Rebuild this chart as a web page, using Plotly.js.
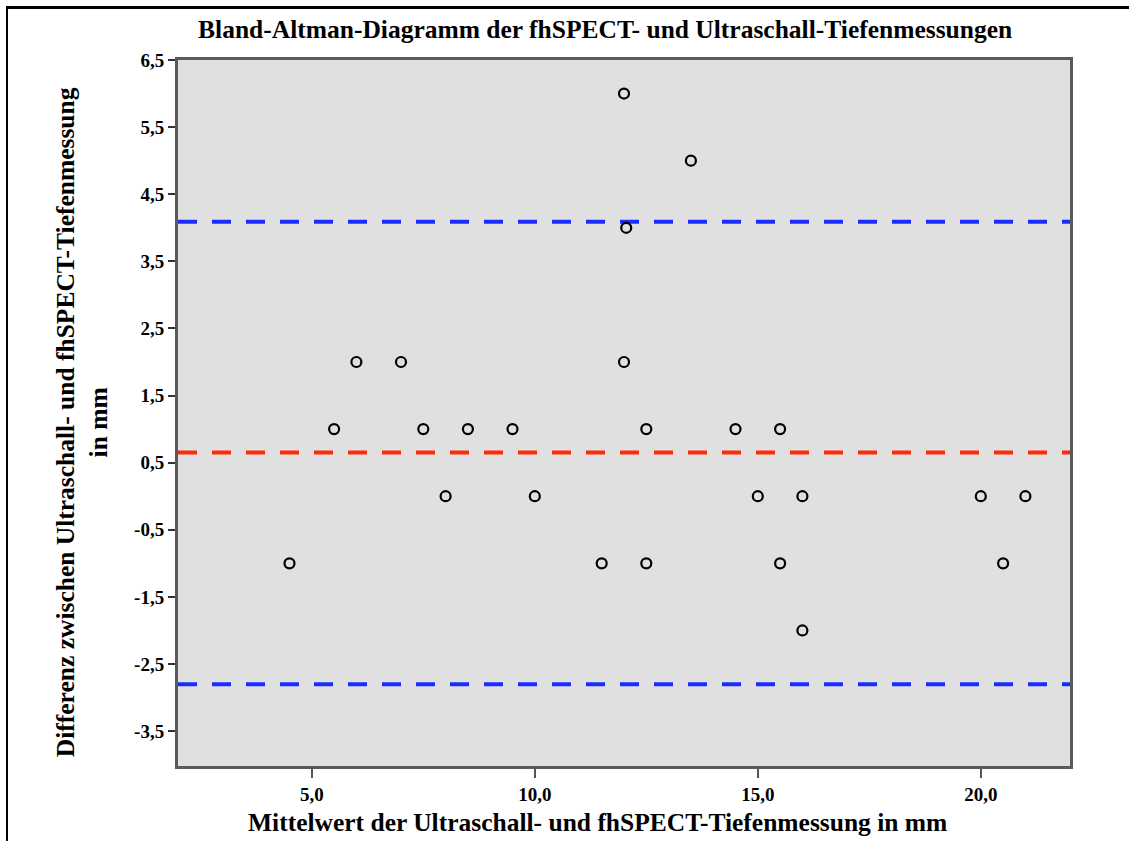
<!DOCTYPE html>
<html>
<head>
<meta charset="utf-8">
<script src="https://cdn.plot.ly/plotly-3.0.1.min.js"></script>
<style>
body{margin:0;padding:0;background:#fff;}
#frame{position:absolute;left:6px;top:6px;width:1123px;height:835px;border-top:3px solid #000;border-left:2px solid #000;}
#chart{position:absolute;left:0;top:0;width:1129px;height:841px;}
</style>
</head>
<body>
<div id="frame"></div>
<div id="chart"></div>
<script>
// Mittelwert (x) und Differenz (y)
const meanValues = [4.5, 5.5, 6.0, 7.0, 7.5, 8.0, 8.5, 9.5, 10.0, 11.5, 12.0, 12.0, 12.05, 12.5, 12.5, 13.5, 14.5, 15.0, 15.5, 15.5, 16.0, 16.0, 20.0, 20.5, 21.0];
const diffValues = [-1, 1, 2, 2, 1, 0, 1, 1, 0, -1, 6, 2, 4, 1, -1, 5, 1, 0, 1, -1, 0, -2, 0, -1, 0];
const meanDiff = 0.65;
const upperLoA = 4.09;
const lowerLoA = -2.80;
const xRange = [2, 22];
const yRange = [-4.02, 6.5];
const xTickVals = [5, 10, 15, 20];
const xTickText = ['5,0', '10,0', '15,0', '20,0'];
const yTickVals = [-3.5, -2.5, -1.5, -0.5, 0.5, 1.5, 2.5, 3.5, 4.5, 5.5, 6.5];
const yTickText = ['-3,5', '-2,5', '-1,5', '-0,5', '0,5', '1,5', '2,5', '3,5', '4,5', '5,5', '6,5'];

const serif = "Liberation Serif, Times New Roman, serif";

const traces = [
  {x: xRange, y: [upperLoA, upperLoA], mode: 'lines', line: {color: '#1a2cff', width: 4, dash: '19px,15px'}, hoverinfo: 'skip'},
  {x: xRange, y: [lowerLoA, lowerLoA], mode: 'lines', line: {color: '#1a2cff', width: 4, dash: '19px,15px'}, hoverinfo: 'skip'},
  {x: xRange, y: [meanDiff, meanDiff], mode: 'lines', line: {color: '#ff2a0a', width: 4, dash: '19px,15px'}, hoverinfo: 'skip'},
  {x: meanValues, y: diffValues, mode: 'markers', type: 'scatter',
   marker: {symbol: 'circle-open', size: 10, color: '#000', line: {color: '#000', width: 2.2}}}
];

const layout = {
  width: 1129, height: 841,
  margin: {l: 178, r: 59, t: 60, b: 75},
  paper_bgcolor: 'rgba(0,0,0,0)',
  plot_bgcolor: '#e0e0e0',
  showlegend: false,
  font: {family: serif, color: '#000'},
  title: {text: '<b>Bland-Altman-Diagramm der fhSPECT- und Ultraschall-Tiefenmessungen</b>',
          font: {family: serif, size: 25.5, color: '#000'},
          x: 0.536, xref: 'container', xanchor: 'center', y: 0.9655, yref: 'container', yanchor: 'middle'},
  xaxis: {range: xRange, tickmode: 'array', tickvals: xTickVals, ticktext: xTickText, showgrid: false, zeroline: false,
          ticks: 'outside', ticklen: 9, tickwidth: 2, tickcolor: '#555',
          showline: true, linecolor: '#5a5a5a', linewidth: 3, mirror: true,
          tickfont: {family: serif, size: 19, color: '#000', weight: 'bold'}},
  yaxis: {range: yRange, tickmode: 'array', tickvals: yTickVals, ticktext: yTickText, showgrid: false, zeroline: false,
          ticks: 'outside', ticklen: 7, tickwidth: 2, tickcolor: '#333',
          showline: true, linecolor: '#5a5a5a', linewidth: 3, mirror: true,
          tickfont: {family: serif, size: 19, color: '#000', weight: 'bold'}},
  annotations: [
    {text: '<b>Mittelwert der Ultraschall- und fhSPECT-Tiefenmessung in mm</b>', xref: 'paper', yref: 'paper',
     x: 0.47, y: -0.0807, xanchor: 'center', yanchor: 'middle', showarrow: false,
     font: {family: serif, size: 25.5, color: '#000'}},
    {text: '<b>Differenz zwischen Ultraschall- und fhSPECT-Tiefenmessung<br>in mm</b>', xref: 'paper', yref: 'paper',
     x: (82 - 178) / 892, y: 0.487, xanchor: 'center', yanchor: 'middle', showarrow: false, textangle: -90,
     font: {family: serif, size: 25.5, color: '#000'}}
  ]
};

Plotly.newPlot('chart', traces, layout, {displayModeBar: false, staticPlot: true});
</script>
</body>
</html>
